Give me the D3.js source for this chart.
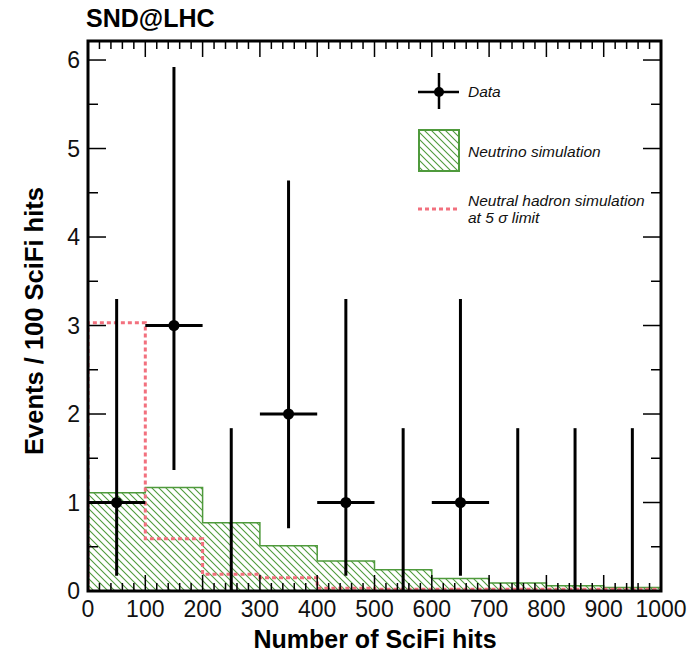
<!DOCTYPE html>
<html>
<head>
<meta charset="utf-8">
<script src="https://cdn.jsdelivr.net/npm/d3@7"></script>
<style>
  html, body { margin: 0; padding: 0; background: #fff; }
  svg { display: block; font-family: "Liberation Sans", Arial, Helvetica, sans-serif; }
</style>
</head>
<body>
<svg id="chart" width="692" height="654"></svg>
<script>
// ---- data ----
const binLow = [0, 100, 200, 300, 400, 500, 600, 700, 800, 900];
const binHigh = [100, 200, 300, 400, 500, 600, 700, 800, 900, 1000];
const dataCounts = [1, 3, 0, 2, 1, 0, 1, 0, 0, 0];
const dataLower = [0.173, 1.367, 0, 0.708, 0.173, 0, 0.173, 0, 0, 0];
const dataUpper = [3.30, 5.92, 1.84, 4.64, 3.30, 1.84, 3.30, 1.84, 1.84, 1.84];
const neutrinoSim = [1.11, 1.17, 0.77, 0.51, 0.34, 0.24, 0.14, 0.09, 0.06, 0.04];
const hadronSim = [3.03, 0.59, 0.19, 0.15, 0.03, 0.02, 0.02, 0.02, 0.02, 0.02];
const xTicks = [0, 100, 200, 300, 400, 500, 600, 700, 800, 900, 1000];
const yTicks = [0, 1, 2, 3, 4, 5, 6];
const legendLabels = ["Data", "Neutrino simulation", "Neutral hadron simulation", "at 5 σ limit"];

// ---- layout ----
const svg = d3.select("#chart");
const L = 88, R = 661, T = 41, B = 591;
const x = d3.scaleLinear().domain([0, 1000]).range([L, R]);
const y = d3.scaleLinear().domain([0, 6.215]).range([B, T]);
const green = "#4f9a3c";
const red = "#f2707e";

// hatch pattern
const defs = svg.append("defs");
const pat = defs.append("pattern").attr("id", "hatch")
  .attr("patternUnits", "userSpaceOnUse").attr("width", 7).attr("height", 7);
pat.append("path").attr("d", "M-1,-1 L8,8 M-1,6 L1,8 M6,-1 L8,1")
  .attr("stroke", green).attr("stroke-width", 1.1).attr("fill", "none");
defs.append("clipPath").attr("id", "plotclip").append("rect")
  .attr("x", L).attr("y", T).attr("width", R - L).attr("height", B - T);

// step path helper
function stepPath(vals) {
  let p = `M${x(binLow[0])},${y(0)}`;
  vals.forEach((v, i) => {
    p += ` L${x(binLow[i])},${y(v)} L${x(binHigh[i])},${y(v)}`;
  });
  p += ` L${x(binHigh[binHigh.length - 1])},${y(0)}`;
  return p;
}

const plot = svg.append("g").attr("clip-path", "url(#plotclip)");

// neutrino histogram (hatched)
plot.append("path").attr("d", stepPath(neutrinoSim) + " Z")
  .attr("fill", "url(#hatch)").attr("stroke", "none");
plot.append("path").attr("d", stepPath(neutrinoSim))
  .attr("fill", "none").attr("stroke", green).attr("stroke-width", 1.5);

// neutral hadron histogram (dashed)
plot.append("path").attr("d", stepPath(hadronSim))
  .attr("fill", "none").attr("stroke", red).attr("stroke-width", 3)
  .attr("stroke-dasharray", "4,3");

// data points with errors
const centers = binLow.map((lo, i) => (lo + binHigh[i]) / 2);
const dg = svg.append("g");
centers.forEach((c, i) => {
  dg.append("line").attr("x1", x(c)).attr("x2", x(c))
    .attr("y1", y(dataLower[i])).attr("y2", y(dataUpper[i]))
    .attr("stroke", "#000").attr("stroke-width", 3);
  if (dataCounts[i] > 0) {
    dg.append("line").attr("x1", x(binLow[i])).attr("x2", x(binHigh[i]))
      .attr("y1", y(dataCounts[i])).attr("y2", y(dataCounts[i]))
      .attr("stroke", "#000").attr("stroke-width", 3);
    dg.append("circle").attr("cx", x(c)).attr("cy", y(dataCounts[i]))
      .attr("r", 5.5).attr("fill", "#000");
  }
});

// ---- ticks (inward, on all four sides) ----
const ax = svg.append("g").attr("stroke", "#000").attr("stroke-width", 1.5);
const xMinor = d3.range(0, 1001, 20);
xMinor.forEach(v => {
  const major = v % 100 === 0;
  const len = major ? 16 : 8;
  ax.append("line").attr("x1", x(v)).attr("x2", x(v)).attr("y1", B).attr("y2", B - len);
  ax.append("line").attr("x1", x(v)).attr("x2", x(v)).attr("y1", T).attr("y2", T + len);
});
const yMinor = d3.range(0, 6.01, 0.5);
yMinor.forEach(v => {
  const major = Math.abs(v - Math.round(v)) < 1e-6;
  const len = major ? 18 : 10;
  ax.append("line").attr("y1", y(v)).attr("y2", y(v)).attr("x1", L).attr("x2", L + len);
  ax.append("line").attr("y1", y(v)).attr("y2", y(v)).attr("x1", R).attr("x2", R - len);
});

// frame
svg.append("rect").attr("x", L).attr("y", T).attr("width", R - L).attr("height", B - T)
  .attr("fill", "none").attr("stroke", "#000").attr("stroke-width", 3);

// tick labels
svg.append("g").selectAll("text").data(xTicks).join("text")
  .attr("x", d => x(d)).attr("y", 617).attr("text-anchor", "middle")
  .attr("font-size", 23).attr("fill", "#111").text(d => d);
svg.append("g").selectAll("text").data(yTicks).join("text")
  .attr("x", 80).attr("y", d => y(d) + 8).attr("text-anchor", "end")
  .attr("font-size", 23).attr("fill", "#111").text(d => d);

// axis titles
svg.append("text").attr("x", 375).attr("y", 648).attr("text-anchor", "middle")
  .attr("font-size", 25).attr("font-weight", "bold").text("Number of SciFi hits");
svg.append("text").attr("transform", "translate(43,321) rotate(-90)")
  .attr("text-anchor", "middle").attr("font-size", 25.5).attr("font-weight", "bold")
  .text("Events / 100 SciFi hits");
svg.append("text").attr("x", 86).attr("y", 27).attr("font-size", 25)
  .attr("font-weight", "bold").text("SND@LHC");

// ---- legend ----
const lg = svg.append("g");
lg.append("line").attr("x1", 418).attr("x2", 459).attr("y1", 92).attr("y2", 92)
  .attr("stroke", "#000").attr("stroke-width", 2.5);
lg.append("line").attr("x1", 439).attr("x2", 439).attr("y1", 73).attr("y2", 109)
  .attr("stroke", "#000").attr("stroke-width", 2.5);
lg.append("circle").attr("cx", 439).attr("cy", 92).attr("r", 5).attr("fill", "#000");
lg.append("rect").attr("x", 419).attr("y", 130).attr("width", 40).attr("height", 41)
  .attr("fill", "url(#hatch)").attr("stroke", green).attr("stroke-width", 2);
lg.append("line").attr("x1", 418).attr("x2", 459).attr("y1", 209).attr("y2", 209)
  .attr("stroke", red).attr("stroke-width", 3).attr("stroke-dasharray", "4,3");
const lt = [[legendLabels[0], 97], [legendLabels[1], 157], [legendLabels[2], 206], [legendLabels[3], 223]];
lg.selectAll("text.leg").data(lt).join("text").attr("class", "leg")
  .attr("x", 468).attr("y", d => d[1]).attr("font-size", 15.5).attr("font-style", "italic")
  .attr("fill", "#111").text(d => d[0]);
</script>
</body>
</html>
